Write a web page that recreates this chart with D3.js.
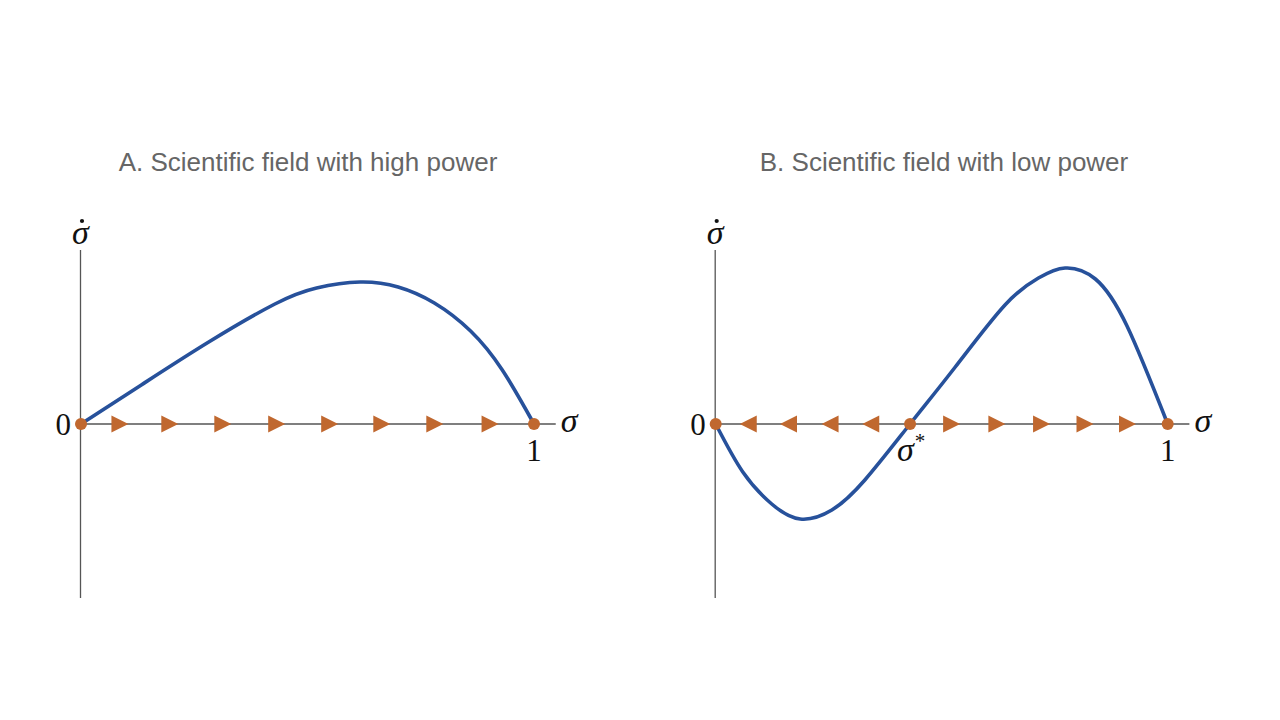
<!DOCTYPE html>
<html>
<head>
<meta charset="utf-8">
<script src="https://cdn.jsdelivr.net/npm/d3@7"></script>
<style>
  html, body { margin: 0; padding: 0; background: #ffffff; }
  svg { display: block; }
</style>
</head>
<body>
<svg id="chart" width="1280" height="720"></svg>
<script>
// ---- data ----
const titles = ["A. Scientific field with high power", "B. Scientific field with low power"];

// Panel A: sigma-dot as a function of sigma (high power)
const sigmaA  = [0, 0.134, 0.281, 0.428, 0.520, 0.616, 0.700, 0.780, 0.860, 0.930, 1];
const valuesA = [0, 0.393, 0.817, 1.20, 1.36, 1.42, 1.37, 1.21, 0.93, 0.54, 0];

// Panel B: sigma-dot as a function of sigma (low power)
const sigmaB  = [0, 0.060, 0.124, 0.187, 0.257, 0.330, 0.430, 0.530, 0.640, 0.714, 0.773, 0.840, 0.910, 1];
const valuesB = [0, -0.48, -0.80, -0.95, -0.86, -0.56, 0, 0.57, 1.19, 1.46, 1.56, 1.45, 0.98, 0];

// flow arrows along the sigma axis
const arrowsA      = [0.086, 0.196, 0.313, 0.432, 0.549, 0.664, 0.781, 0.903];
const arrowsBLeft  = [0.072, 0.161, 0.253, 0.343];
const arrowsBRight = [0.522, 0.622, 0.721, 0.817, 0.911];

// fixed points
const fixedA = [0, 1];
const fixedB = [0, 0.43, 1];

// ---- drawing ----
const svg = d3.select("#chart");
const curveColor = "#27519b";
const dotColor = "#c0682f";
const axisColor = "#555555";
const serif = "'Liberation Serif', 'Times New Roman', serif";

const y = d3.scaleLinear().domain([-1.74, 1.74]).range([598, 250]);

function panel(cfg) {
  const x = d3.scaleLinear().domain([0, 1]).range(cfg.range);
  const g = svg.append("g");

  // title
  g.append("text")
    .attr("x", cfg.titleX).attr("y", 171)
    .attr("text-anchor", "middle")
    .attr("font-family", "'Liberation Sans', Arial, Helvetica, sans-serif")
    .attr("font-size", 26)
    .attr("fill", "#666666")
    .text(cfg.title);

  // axes
  g.append("line")
    .attr("x1", x(0) - 0.5).attr("x2", x(0) - 0.5)
    .attr("y1", y.range()[1]).attr("y2", y.range()[0])
    .attr("stroke", axisColor).attr("stroke-width", 1.3);
  g.append("line")
    .attr("x1", x(0)).attr("x2", x(1.048))
    .attr("y1", y(0)).attr("y2", y(0))
    .attr("stroke", axisColor).attr("stroke-width", 1.3);

  // curve
  const line = d3.line()
    .x(d => x(d[0])).y(d => y(d[1]))
    .curve(d3.curveNatural);
  g.append("path")
    .datum(cfg.sigma.map((s, i) => [s, cfg.values[i]]))
    .attr("d", line)
    .attr("fill", "none")
    .attr("stroke", curveColor)
    .attr("stroke-width", 3.6)
    .attr("stroke-linecap", "round");

  // arrows
  const right = "M-8.5,-8.5 L8.5,0 L-8.5,8.5 Z";
  const left  = "M8.5,-8.5 L-8.5,0 L8.5,8.5 Z";
  g.selectAll(null).data(cfg.right).enter().append("path")
    .attr("d", right)
    .attr("transform", d => `translate(${x(d)},${y(0)})`)
    .attr("fill", dotColor);
  g.selectAll(null).data(cfg.left).enter().append("path")
    .attr("d", left)
    .attr("transform", d => `translate(${x(d)},${y(0)})`)
    .attr("fill", dotColor);

  // fixed points
  g.selectAll(null).data(cfg.fixed).enter().append("circle")
    .attr("cx", d => x(d)).attr("cy", y(0)).attr("r", 6)
    .attr("fill", dotColor);

  // math labels
  g.append("text")
    .attr("x", x(0) - 10).attr("y", y(0) + 11)
    .attr("text-anchor", "end")
    .attr("font-family", serif).attr("font-size", 31)
    .attr("fill", "#111").text("0");
  g.append("text")
    .attr("x", x(1)).attr("y", y(0) + 37)
    .attr("text-anchor", "middle")
    .attr("font-family", serif).attr("font-size", 31)
    .attr("fill", "#111").text("1");
  g.append("text")
    .attr("x", x(1.048) + 5).attr("y", y(0) + 8)
    .attr("font-family", serif).attr("font-size", 34).attr("font-style", "italic")
    .attr("fill", "#111").text("σ");
  // sigma-dot at top of vertical axis
  g.append("text")
    .attr("x", x(0) - 0.5).attr("y", 244)
    .attr("text-anchor", "middle")
    .attr("font-family", serif).attr("font-size", 34).attr("font-style", "italic")
    .attr("fill", "#111").text("σ");
  g.append("circle")
    .attr("cx", x(0) + 1).attr("cy", 221).attr("r", 2.1)
    .attr("fill", "#111");

  if (cfg.star !== undefined) {
    const t = g.append("text")
      .attr("x", x(cfg.star) - 13).attr("y", y(0) + 37)
      .attr("font-family", serif).attr("font-size", 34).attr("font-style", "italic")
      .attr("fill", "#111");
    t.append("tspan").text("σ");
    t.append("tspan").attr("font-style", "normal").attr("font-size", 21)
      .attr("dy", -13).attr("dx", 1).text("*");
  }
}

panel({
  title: titles[0], titleX: 308, range: [81, 534],
  sigma: sigmaA, values: valuesA,
  right: arrowsA, left: [], fixed: fixedA
});
panel({
  title: titles[1], titleX: 944, range: [715.7, 1167.7],
  sigma: sigmaB, values: valuesB,
  right: arrowsBRight, left: arrowsBLeft, fixed: fixedB, star: 0.43
});
</script>
</body>
</html>
